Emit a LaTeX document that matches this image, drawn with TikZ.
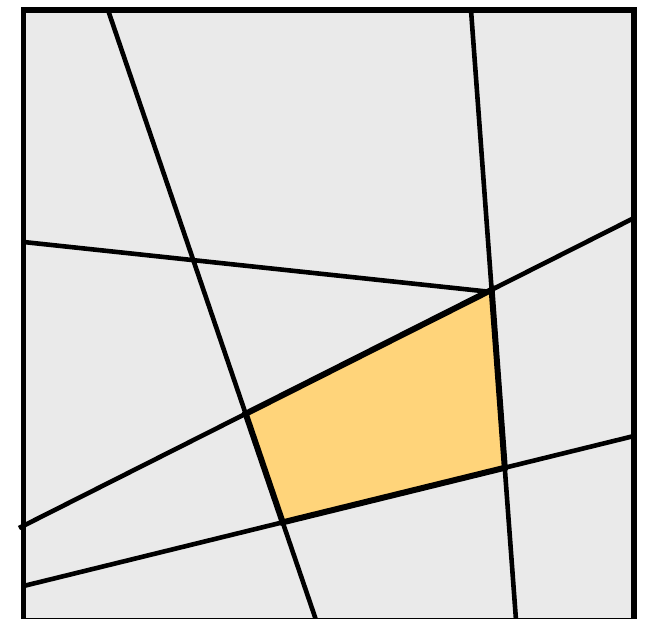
\documentclass[tikz,border=0pt]{standalone}
\usepackage{tikz}

\definecolor{cellgray}{RGB}{234,234,234}
\definecolor{cellgold}{RGB}{255,212,122}

\tikzset{
    cutline/.style={line width=4.6pt, line cap=butt},
    celledge/.style={line width=6pt, line join=miter},
    framebox/.style={line width=5.5pt}
}

\begin{document}
\begin{tikzpicture}[x=1pt, y=-1pt]
    \useasboundingbox (0,0) rectangle (654,619);

    % Background square
    \fill[cellgray] (23.5,10) rectangle (634,620.5);

    % End points of the five lines
    \coordinate (a1) at (108,10);   \coordinate (a2) at (316,620);
    \coordinate (b1) at (471,10);   \coordinate (b2) at (516,620);
    \coordinate (c1) at (23.5,242); \coordinate (c2) at (491.5,292);
    \coordinate (d1) at (19,528);   \coordinate (d2) at (634,218);
    \coordinate (e1) at (23.5,586); \coordinate (e2) at (634,436);

    % Lines
    \foreach \p/\q in {a1/a2, b1/b2, c1/c2, d1/d2, e1/e2} {
        \draw[cutline] (\p) -- (\q);
    }

    % Corners of the highlighted cell
    \coordinate (q1) at (intersection of a1--a2 and d1--d2);
    \coordinate (q2) at (intersection of b1--b2 and d1--d2);
    \coordinate (q3) at (intersection of b1--b2 and e1--e2);
    \coordinate (q4) at (intersection of a1--a2 and e1--e2);

    % Highlighted cell
    \filldraw[cellgold, draw=black, celledge] (q1) -- (q2) -- (q3) -- (q4) -- cycle;

    % Frame
    \draw[framebox] (23.5,10) rectangle (634,620.5);
\end{tikzpicture}
\end{document}
